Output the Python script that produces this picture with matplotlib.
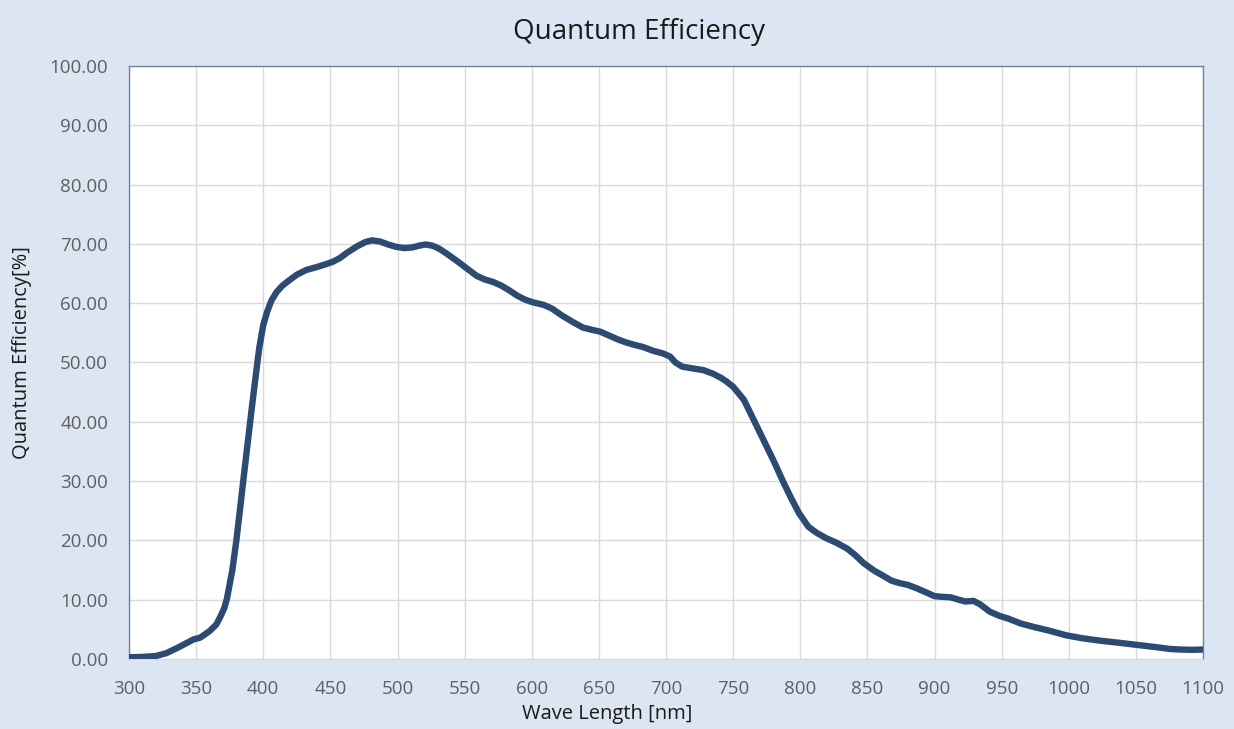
import numpy as np
import matplotlib.pyplot as plt
from matplotlib.ticker import FormatStrFormatter

plt.rcParams['font.family'] = ['Open Sans', 'DejaVu Sans']

# wavelength [nm] and QE [%]
wavelength = [300, 310, 320, 328, 338, 348, 353, 360, 365, 368, 371, 373, 377, 380, 383,
              385, 388, 391, 394, 397, 400, 403, 406, 410, 414, 419, 425, 432, 440, 447,
              452, 457, 463, 470, 476, 481, 487, 493, 499, 505, 511, 516, 521, 526, 531,
              537, 545, 552, 559, 565, 571, 577, 583, 589, 594, 600, 609, 615, 622, 630,
              638, 645, 651, 657, 664, 670, 676, 683, 690, 698, 703, 707, 712, 720, 728,
              735, 741, 745, 750, 758, 766, 775, 781, 787, 793, 799, 806, 812, 819, 827,
              835, 841, 847, 855, 862, 868, 874, 880, 887, 894, 900, 905, 912, 918, 923,
              929, 934, 941, 948, 955, 964, 974, 985, 998, 1010, 1023, 1035, 1050, 1065, 1075,
              1083, 1092, 1100]
qe = [0.3, 0.35, 0.5, 1.0, 2.1, 3.3, 3.6, 4.7, 5.8, 7.1, 8.6, 10.2, 15.0, 20.0, 25.8,
      29.8, 35.6, 41.4, 47.0, 52.4, 56.3, 58.6, 60.4, 61.9, 62.9, 63.8, 64.8, 65.6, 66.1, 66.6,
      67.0, 67.6, 68.6, 69.6, 70.3, 70.6, 70.4, 69.9, 69.5, 69.3, 69.4, 69.7, 69.9, 69.7, 69.2,
      68.3, 67.0, 65.8, 64.6, 64.0, 63.6, 63.0, 62.2, 61.3, 60.7, 60.2, 59.7, 59.1, 58.0, 56.9,
      55.9, 55.5, 55.2, 54.6, 53.9, 53.4, 53.0, 52.6, 52.0, 51.5, 51.0, 50.0, 49.3, 49.0, 48.7,
      48.1, 47.4, 46.8, 45.9, 43.7, 40.0, 35.8, 33.0, 30.0, 27.2, 24.6, 22.3, 21.3, 20.4, 19.6,
      18.6, 17.5, 16.2, 14.9, 14.0, 13.2, 12.8, 12.5, 11.9, 11.2, 10.6, 10.5, 10.4, 10.0, 9.7,
      9.8, 9.2, 8.0, 7.3, 6.8, 6.0, 5.4, 4.8, 4.0, 3.5, 3.1, 2.8, 2.4, 2.0, 1.7,
      1.6, 1.55, 1.6]

fig = plt.figure(figsize=(12.34, 7.29), dpi=100)
fig.patch.set_facecolor('#dce6f2')
ax = fig.add_axes([0.1045, 0.096, 0.8705, 0.8135])
ax.set_facecolor('white')

ax.plot(wavelength, qe, color='#2c4a72', linewidth=4.6, solid_capstyle='round',
        solid_joinstyle='round', zorder=3)

ax.set_xlim(300, 1100)
ax.set_ylim(0, 100)
ax.set_xticks(np.arange(300, 1101, 50))
ax.set_yticks(np.arange(0, 101, 10))
ax.yaxis.set_major_formatter(FormatStrFormatter('%.2f'))
ax.grid(True, color='#d9d9d9', linewidth=1.0)
ax.set_axisbelow(True)
ax.tick_params(length=0, labelsize=13.5, labelcolor='#5f5f5f')
ax.tick_params(axis='y', pad=15)
ax.tick_params(axis='x', pad=15)

for side in ['left', 'top', 'right']:
    ax.spines[side].set_color('#6f86a3')
    ax.spines[side].set_linewidth(1.0)
ax.spines['bottom'].set_color('#d9d9d9')

fig.text(0.518, 0.956, 'Quantum Efficiency', fontsize=20, color='#1a1a1a',
         ha='center', va='center')
fig.text(0.4923, 0.0206, 'Wave Length [nm]', fontsize=14.5, color='#1a1a1a',
         ha='center', va='center')
fig.text(0.0178, 0.5165, 'Quantum Efficiency[%]', fontsize=14.5, color='#1a1a1a',
         ha='center', va='center', rotation=90)

fig.savefig('out.png', dpi=100, facecolor=fig.get_facecolor())
